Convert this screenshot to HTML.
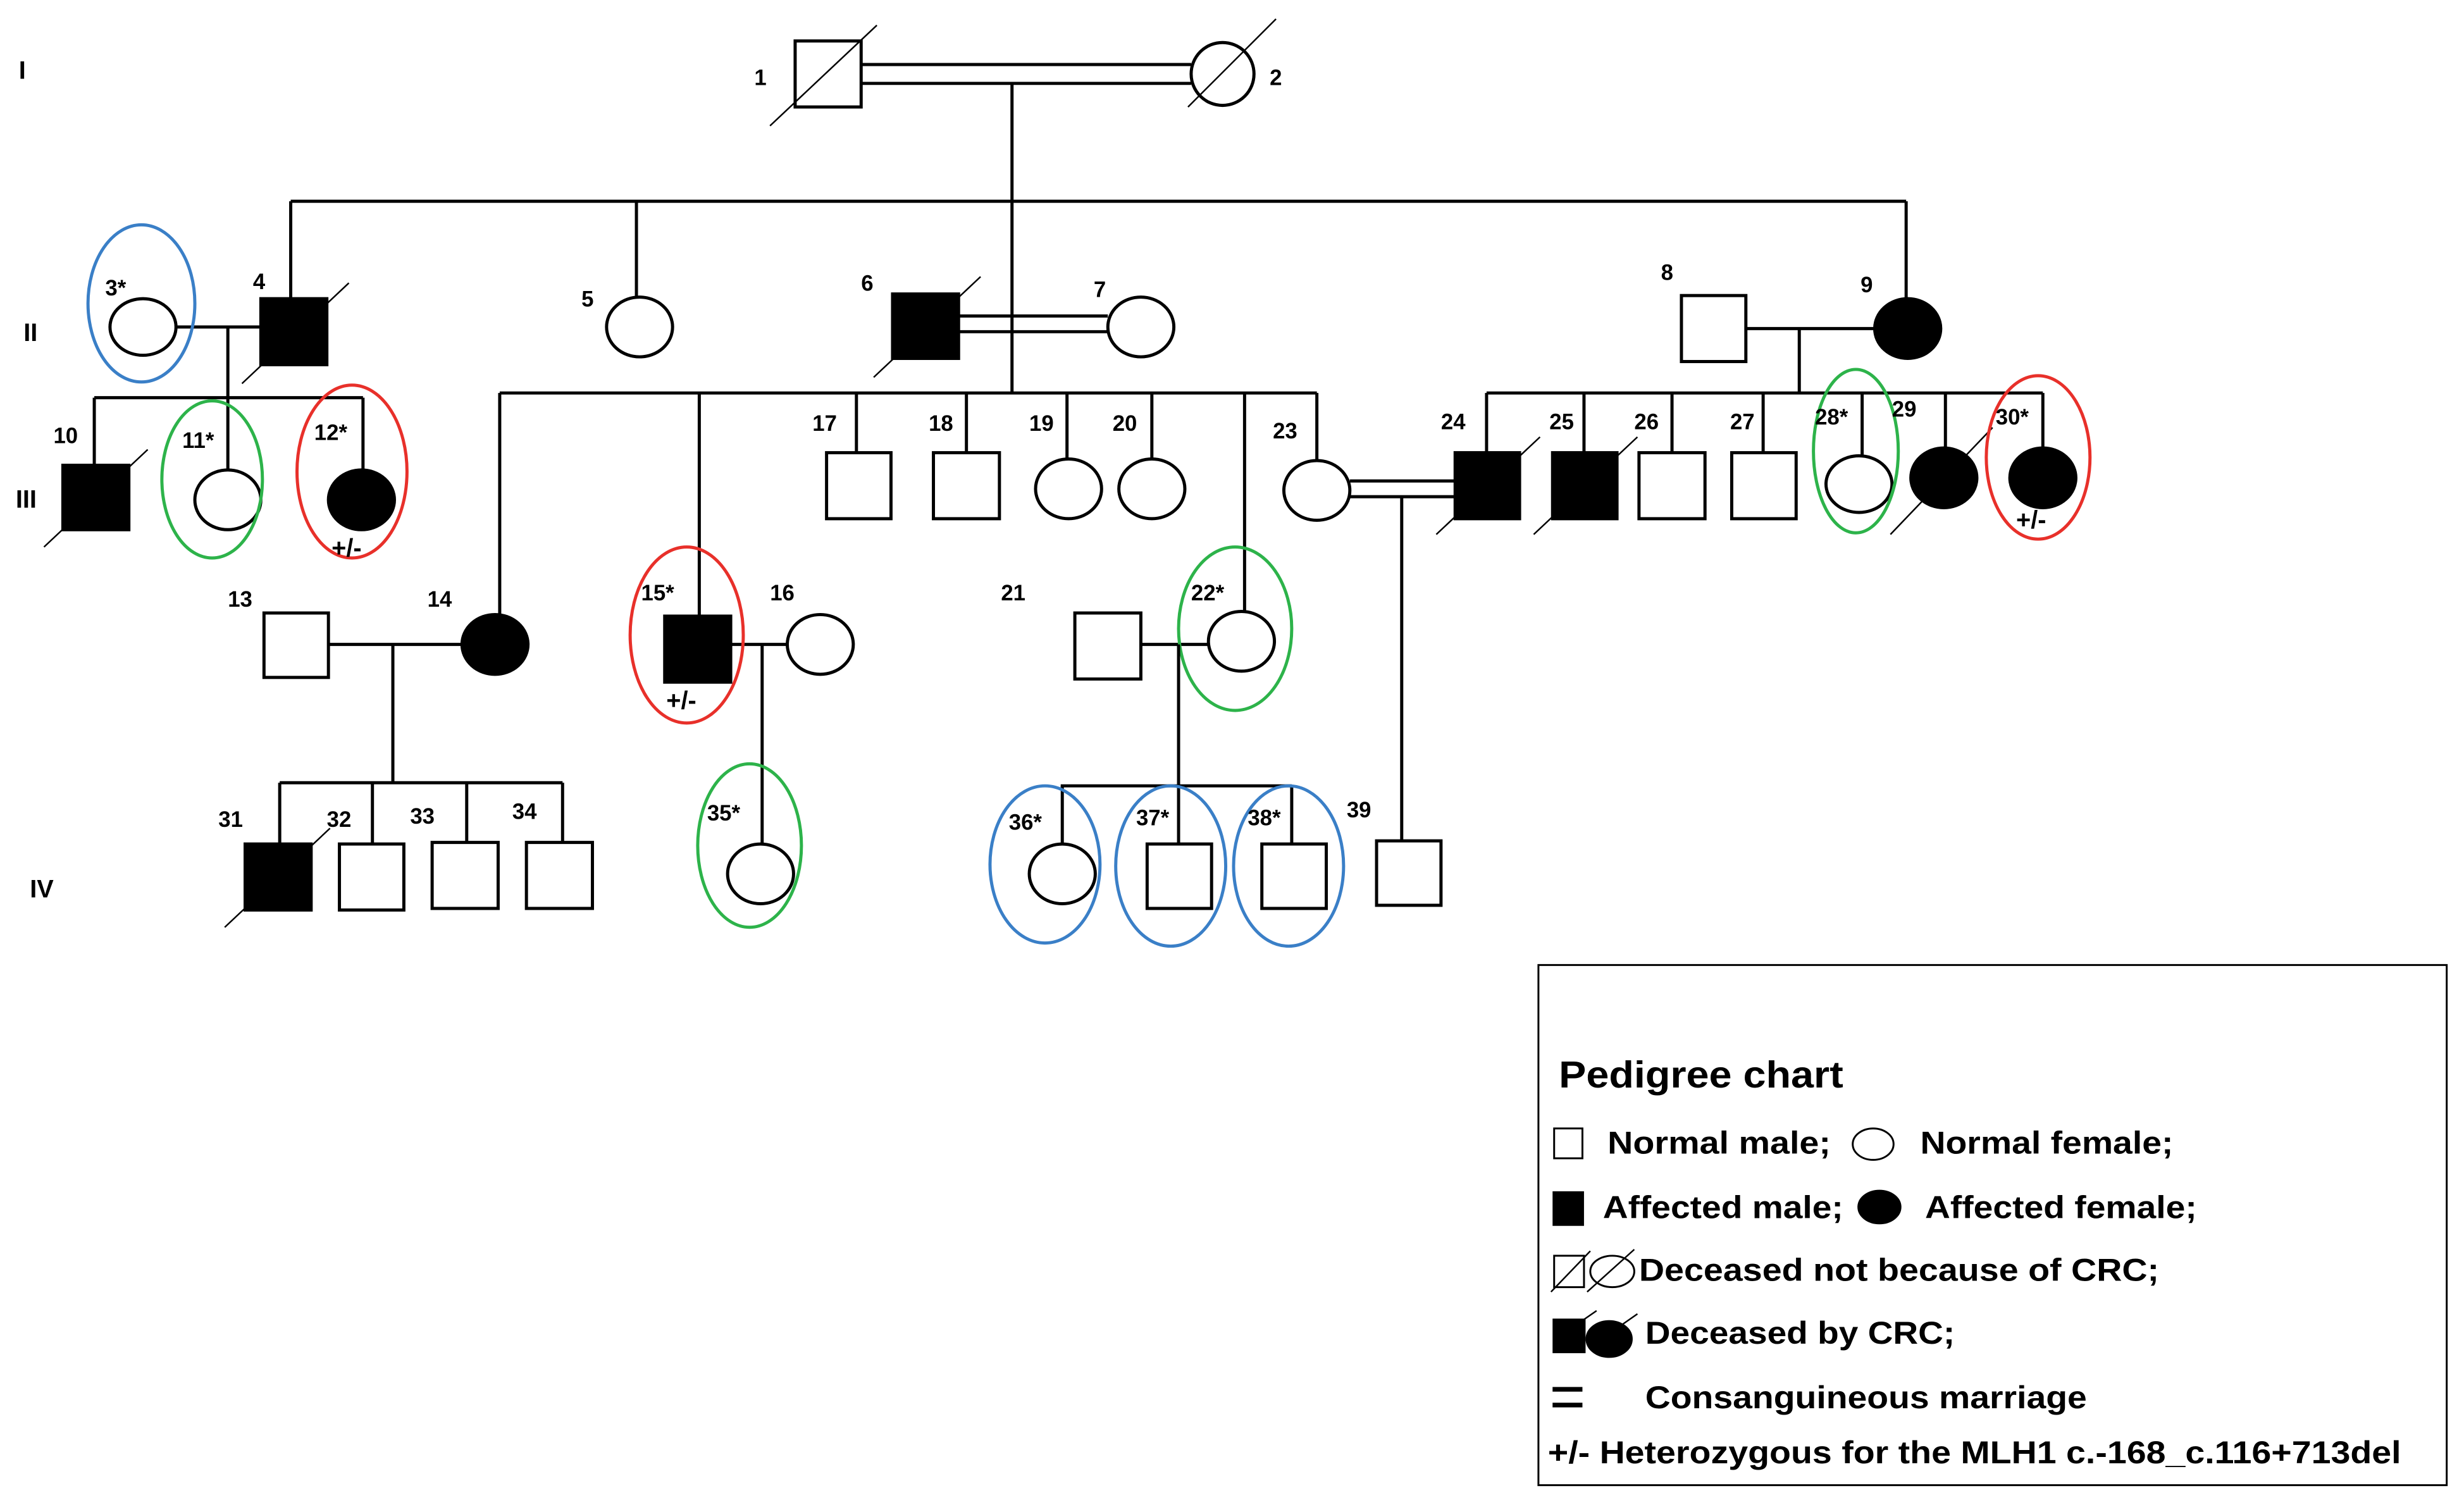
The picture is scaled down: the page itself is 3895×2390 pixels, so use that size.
<!DOCTYPE html>
<html><head><meta charset="utf-8"><style>
html,body{margin:0;padding:0;background:#fff;}
svg{display:block;}
text{font-family:"Liberation Sans",Arial,sans-serif;font-weight:bold;fill:#000;}
</style></head><body>
<svg width="3895" height="2390" viewBox="0 0 1568 962" xmlns="http://www.w3.org/2000/svg">
<g fill="none" stroke="#000" stroke-width="2">
<rect x="506" y="26" width="42" height="42" fill="#fff"/>
<line x1="490" y1="80" x2="558" y2="16" stroke-width="1"/>
<line x1="548" y1="41" x2="758" y2="41"/><line x1="548" y1="53" x2="758" y2="53"/>
<ellipse cx="778" cy="47" rx="20" ry="20" fill="#fff"/>
<line x1="756" y1="68" x2="812" y2="12" stroke-width="1"/>
<line x1="644" y1="53" x2="644" y2="128"/>
<line x1="185" y1="128" x2="1213" y2="128"/>
<line x1="185" y1="128" x2="185" y2="190"/>
<line x1="405" y1="128" x2="405" y2="190"/>
<line x1="1213" y1="128" x2="1213" y2="190"/>
<line x1="112" y1="208" x2="166" y2="208"/>
<line x1="145" y1="208" x2="145" y2="253"/>
<line x1="60" y1="253" x2="231" y2="253"/>
<ellipse cx="91" cy="208" rx="21" ry="18" fill="#fff"/>
<ellipse cx="90" cy="193" rx="34" ry="50" stroke="#3a7fc7"/>
<rect x="166" y="190" width="42" height="42" fill="#000"/>
<line x1="154" y1="244" x2="222" y2="180" stroke-width="1"/>
<ellipse cx="407" cy="208" rx="21" ry="19" fill="#fff"/>
<line x1="610" y1="201" x2="705" y2="201"/><line x1="610" y1="211" x2="705" y2="211"/>
<rect x="568" y="187" width="42" height="41" fill="#000"/>
<line x1="556" y1="240" x2="624" y2="176" stroke-width="1"/>
<ellipse cx="726" cy="208" rx="21" ry="19" fill="#fff"/>
<line x1="644" y1="128" x2="644" y2="250"/>
<line x1="318" y1="250" x2="838" y2="250"/>
<line x1="1111" y1="209" x2="1193" y2="209"/>
<rect x="1070" y="188" width="41" height="42" fill="#fff"/>
<ellipse cx="1214" cy="209" rx="21" ry="19" fill="#000"/>
<line x1="1145" y1="209" x2="1145" y2="250"/>
<line x1="946" y1="250" x2="1300" y2="250"/>
<line x1="60" y1="253" x2="60" y2="296"/>
<line x1="145" y1="253" x2="145" y2="299"/>
<line x1="231" y1="253" x2="231" y2="300"/>
<line x1="318" y1="250" x2="318" y2="392"/>
<line x1="445" y1="250" x2="445" y2="392"/>
<line x1="545" y1="250" x2="545" y2="288"/>
<line x1="615" y1="250" x2="615" y2="288"/>
<line x1="679" y1="250" x2="679" y2="292"/>
<line x1="733" y1="250" x2="733" y2="292"/>
<line x1="792" y1="250" x2="792" y2="390"/>
<line x1="838" y1="250" x2="838" y2="293"/>
<line x1="946" y1="250" x2="946" y2="288"/>
<line x1="1008" y1="250" x2="1008" y2="288"/>
<line x1="1064" y1="250" x2="1064" y2="288"/>
<line x1="1122" y1="250" x2="1122" y2="288"/>
<line x1="1185" y1="250" x2="1185" y2="290"/>
<line x1="1238" y1="250" x2="1238" y2="285"/>
<line x1="1300" y1="250" x2="1300" y2="285"/>
<rect x="40" y="296" width="42" height="41" fill="#000"/>
<line x1="28" y1="348" x2="94" y2="286" stroke-width="1"/>
<ellipse cx="145" cy="318" rx="21" ry="19" fill="#fff"/>
<ellipse cx="135" cy="305" rx="32" ry="50" stroke="#2db34a"/>
<ellipse cx="230" cy="318" rx="21" ry="19" fill="#000"/>
<ellipse cx="224" cy="300" rx="35" ry="55" stroke="#e8302a"/>
<rect x="526" y="288" width="41" height="42" fill="#fff"/>
<rect x="594" y="288" width="42" height="42" fill="#fff"/>
<ellipse cx="680" cy="311" rx="21" ry="19" fill="#fff"/>
<ellipse cx="733" cy="311" rx="21" ry="19" fill="#fff"/>
<line x1="859" y1="306" x2="926" y2="306"/><line x1="859" y1="316" x2="926" y2="316"/>
<line x1="892" y1="316" x2="892" y2="535"/>
<ellipse cx="838" cy="312" rx="21" ry="19" fill="#fff"/>
<rect x="926" y="288" width="41" height="42" fill="#000"/>
<line x1="914" y1="340" x2="980" y2="278" stroke-width="1"/>
<rect x="988" y="288" width="41" height="42" fill="#000"/>
<line x1="976" y1="340" x2="1042" y2="278" stroke-width="1"/>
<rect x="1043" y="288" width="42" height="42" fill="#fff"/>
<rect x="1102" y="288" width="41" height="42" fill="#fff"/>
<ellipse cx="1183" cy="308" rx="21" ry="18" fill="#fff"/>
<ellipse cx="1181" cy="287" rx="27" ry="52" stroke="#2db34a"/>
<ellipse cx="1237" cy="304" rx="21" ry="19" fill="#000"/>
<line x1="1203" y1="340" x2="1268" y2="272" stroke-width="1"/>
<ellipse cx="1300" cy="304" rx="21" ry="19" fill="#000"/>
<ellipse cx="1297" cy="291" rx="33" ry="52" stroke="#e8302a"/>
<line x1="209" y1="410" x2="294" y2="410"/>
<rect x="168" y="390" width="41" height="41" fill="#fff"/>
<ellipse cx="315" cy="410" rx="21" ry="19" fill="#000"/>
<line x1="250" y1="410" x2="250" y2="498"/>
<line x1="178" y1="498" x2="358" y2="498"/>
<line x1="465" y1="410" x2="501" y2="410"/>
<rect x="423" y="392" width="42" height="42" fill="#000"/>
<ellipse cx="437" cy="404" rx="36" ry="56" stroke="#e8302a"/>
<ellipse cx="522" cy="410" rx="21" ry="19" fill="#fff"/>
<line x1="485" y1="410" x2="485" y2="538"/>
<line x1="726" y1="410" x2="770" y2="410"/>
<rect x="684" y="390" width="42" height="42" fill="#fff"/>
<ellipse cx="790" cy="408" rx="21" ry="19" fill="#fff"/>
<ellipse cx="786" cy="400" rx="36" ry="52" stroke="#2db34a"/>
<line x1="750" y1="410" x2="750" y2="500"/>
<line x1="675" y1="500" x2="822" y2="500"/>
<line x1="178" y1="498" x2="178" y2="537"/>
<line x1="237" y1="498" x2="237" y2="537"/>
<line x1="297" y1="498" x2="297" y2="537"/>
<line x1="358" y1="498" x2="358" y2="537"/>
<rect x="156" y="537" width="42" height="42" fill="#000"/>
<line x1="143" y1="590" x2="210" y2="527" stroke-width="1"/>
<rect x="216" y="537" width="41" height="42" fill="#fff"/>
<rect x="275" y="536" width="42" height="42" fill="#fff"/>
<rect x="335" y="536" width="42" height="42" fill="#fff"/>
<ellipse cx="484" cy="556" rx="21" ry="19" fill="#fff"/>
<ellipse cx="477" cy="538" rx="33" ry="52" stroke="#2db34a"/>
<line x1="676" y1="500" x2="676" y2="538"/>
<line x1="750" y1="500" x2="750" y2="537"/>
<line x1="822" y1="500" x2="822" y2="537"/>
<ellipse cx="676" cy="556" rx="21" ry="19" fill="#fff"/>
<ellipse cx="665" cy="550" rx="35" ry="50" stroke="#3a7fc7"/>
<rect x="730" y="537" width="41" height="41" fill="#fff"/>
<ellipse cx="745" cy="551" rx="35" ry="51" stroke="#3a7fc7"/>
<rect x="803" y="537" width="41" height="41" fill="#fff"/>
<ellipse cx="820" cy="551" rx="35" ry="51" stroke="#3a7fc7"/>
<rect x="876" y="535" width="41" height="41" fill="#fff"/>
<rect x="979" y="614" width="578" height="331" stroke-width="1.2"/>
<rect x="989" y="718" width="18" height="19" stroke-width="1.2"/>
<ellipse cx="1192" cy="728" rx="13" ry="10" stroke-width="1.2"/>
<rect x="989" y="759" width="18" height="20" fill="#000"/>
<ellipse cx="1196" cy="768" rx="13" ry="10" fill="#000"/>
<rect x="989" y="799" width="19" height="20" stroke-width="1.2"/>
<line x1="987" y1="822" x2="1012" y2="796" stroke-width="1"/>
<ellipse cx="1026" cy="809" rx="14" ry="10" stroke-width="1.2"/>
<line x1="1010" y1="822" x2="1040" y2="795" stroke-width="1"/>
<rect x="989" y="840" width="19" height="20" fill="#000"/>
<line x1="1003" y1="843" x2="1016" y2="834" stroke-width="1"/>
<ellipse cx="1024" cy="852" rx="14" ry="11" fill="#000"/>
<line x1="1032" y1="843" x2="1042" y2="836" stroke-width="1"/>
<line x1="988" y1="884" x2="1007" y2="884" stroke-width="3"/>
<line x1="988" y1="894" x2="1007" y2="894" stroke-width="3"/>
</g>
<g font-size="14">
<text x="480" y="54">1</text><text x="808" y="54">2</text>
<text x="67" y="188">3*</text><text x="161" y="184">4</text><text x="370" y="195">5</text>
<text x="548" y="185">6</text><text x="696" y="189">7</text><text x="1057" y="178">8</text><text x="1184" y="186">9</text>
<text x="34" y="282">10</text><text x="116" y="285">11*</text><text x="200" y="280">12*</text>
<text x="145" y="386">13</text><text x="272" y="386">14</text><text x="408" y="382">15*</text><text x="490" y="382">16</text>
<text x="517" y="274">17</text><text x="591" y="274">18</text><text x="655" y="274">19</text><text x="708" y="274">20</text>
<text x="637" y="382">21</text><text x="758" y="382">22*</text><text x="810" y="279">23</text>
<text x="917" y="273">24</text><text x="986" y="273">25</text><text x="1040" y="273">26</text><text x="1101" y="273">27</text>
<text x="1155" y="270">28*</text><text x="1204" y="265">29</text><text x="1270" y="270">30*</text>
<text x="139" y="526">31</text><text x="208" y="526">32</text><text x="261" y="524">33</text><text x="326" y="521">34</text>
<text x="450" y="522">35*</text><text x="642" y="528">36*</text><text x="723" y="525">37*</text><text x="794" y="525">38*</text><text x="857" y="520">39</text>
</g>
<g font-size="16">
<text x="211" y="354">+/-</text><text x="424" y="451">+/-</text><text x="1283" y="336">+/-</text>
<text x="12" y="50">I</text><text x="15" y="217">II</text><text x="10" y="323">III</text><text x="19" y="571">IV</text>
</g>
<text x="992" y="692" font-size="24" textLength="181" lengthAdjust="spacingAndGlyphs">Pedigree chart</text>
<g font-size="20">
<text x="1023" y="734" textLength="142" lengthAdjust="spacingAndGlyphs">Normal male;</text>
<text x="1222" y="734" textLength="161" lengthAdjust="spacingAndGlyphs">Normal female;</text>
<text x="1020" y="775" textLength="153" lengthAdjust="spacingAndGlyphs">Affected male;</text>
<text x="1225" y="775" textLength="173" lengthAdjust="spacingAndGlyphs">Affected female;</text>
<text x="1043" y="815" textLength="331" lengthAdjust="spacingAndGlyphs">Deceased not because of CRC;</text>
<text x="1047" y="855" textLength="197" lengthAdjust="spacingAndGlyphs">Deceased by CRC;</text>
<text x="1047" y="896" textLength="281" lengthAdjust="spacingAndGlyphs">Consanguineous marriage</text>
<text x="985" y="931" textLength="543" lengthAdjust="spacingAndGlyphs">+/- Heterozygous for the MLH1 c.-168_c.116+713del</text>
</g>
</svg>
</body></html>
